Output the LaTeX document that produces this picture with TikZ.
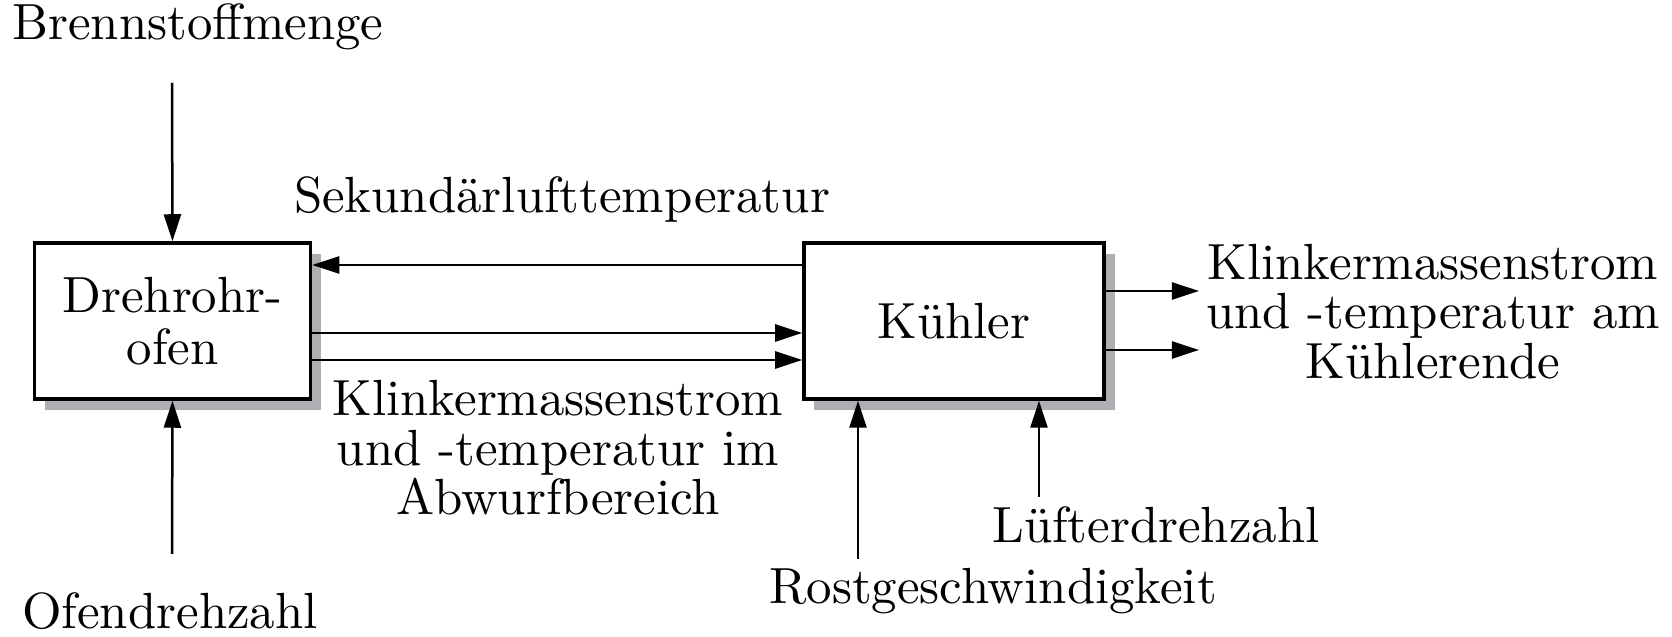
\documentclass[tikz,border=0pt]{standalone}
\usetikzlibrary{arrows.meta,shadows}
\definecolor{shadowgray}{RGB}{174,175,179}
\begin{document}
\begin{tikzpicture}[x=0.2pt,y=-0.2pt,
  blockbox/.style={draw, line width=0.7pt, fill=white, align=center,
    font=\fontsize{10.17}{10.5}\selectfont,
    drop shadow={shadow xshift=2.1pt, shadow yshift=-2.3pt, fill=shadowgray, opacity=1}},
  conn/.style={line width=0.5pt, -{Triangle[length=5.4pt,width=3.4pt]}},
  lbl/.style={inner sep=0pt, font=\fontsize{10.17}{10}\selectfont},
  mlbl/.style={inner sep=0pt, align=center, font=\fontsize{10.17}{9.9}\selectfont}]
\useasboundingbox (0,0) rectangle (1672,637);

\node[blockbox, minimum width=55.2pt, minimum height=31.2pt] (D) at (172.5,321) {Drehrohr-\\ofen};
\node[blockbox, minimum width=60pt, minimum height=31.2pt] (K) at (954,321) {Kühler};

\node[lbl, anchor=base] (bm) at (198,40) {Brennstoffmenge};
\node[lbl, anchor=base] (sl) at (562,213) {Sekundärlufttemperatur};
\node[lbl, anchor=base] (od) at (170,629) {Ofendrehzahl};
\node[lbl, anchor=base] (lz) at (1156,543) {Lüfterdrehzahl};
\node[lbl, anchor=base] (rg) at (993,604) {Rostgeschwindigkeit};
\node[mlbl] (ka) at (558,448) {Klinkermassenstrom\\und -temperatur im\\Abwurfbereich};
\node[mlbl] (ke) at (1433,311.5) {Klinkermassenstrom\\und -temperatur am\\Kühlerende};

\coordinate (bmE) at (172,83);
\coordinate (odE) at (172,554);
\coordinate (rgE) at (858,559);
\coordinate (lzE) at (1039,497);
\coordinate (o1) at (1199,291);
\coordinate (o2) at (1199,350);

\draw[conn] (bmE) -- (D.north);
\draw[conn] (odE) -- (D.south);
\draw[conn] (K.west |- 0,265) -- (D.east |- 0,265);
\draw[conn] (D.east |- 0,333) -- (K.west |- 0,333);
\draw[conn] (D.east |- 0,360) -- (K.west |- 0,360);
\draw[conn] (K.east |- o1) -- (o1);
\draw[conn] (K.east |- o2) -- (o2);
\draw[conn] (rgE) -- (K.south -| rgE);
\draw[conn] (lzE) -- (K.south -| lzE);
\end{tikzpicture}
\end{document}
